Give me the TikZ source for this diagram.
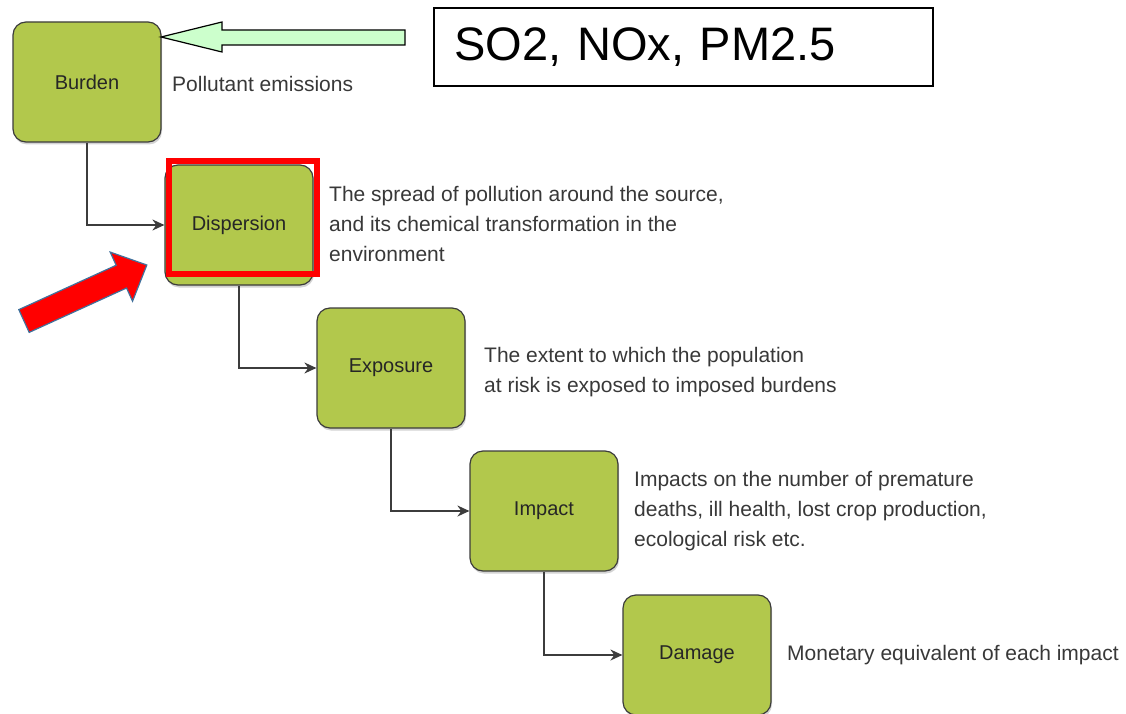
\documentclass[tikz,border=0pt]{standalone}
\usepackage{fontspec}
\setmainfont{Liberation Sans}
\usetikzlibrary{arrows.meta, shadows}
\definecolor{clrStage}{HTML}{B2C84C}
\definecolor{clrEdge}{HTML}{3C3C3C}
\definecolor{clrNote}{HTML}{383838}
\definecolor{clrInflow}{HTML}{CCFFCC}
\definecolor{clrPointer}{HTML}{FF0000}
\definecolor{clrPointerEdge}{HTML}{41719C}

\begin{document}
\begin{tikzpicture}[x=1pt, y=-1pt,
    stage/.style={rectangle, draw=clrEdge, fill=clrStage, minimum width=148pt, minimum height=120pt, rounded corners=13pt, line width=1.2pt, font=\fontsize{20}{24}\selectfont, text=black!85, drop shadow={opacity=0.35, shadow xshift=1pt, shadow yshift=-2.5pt}},
    note/.style={anchor=west, align=left, inner sep=0pt, font=\fontsize{21}{30}\selectfont, text=clrNote},
    link/.style={-{Stealth[length=12pt, width=11pt]}, line width=1.6pt, clrEdge},
    hilite/.style={rectangle, draw=clrPointer, line width=6pt, minimum width=148pt, minimum height=113pt},
    species/.style={rectangle, draw=black, line width=1.3pt, minimum width=499pt, minimum height=78pt, text width=458pt, align=left, font=\fontsize{47}{50}\selectfont},
]
\useasboundingbox (0,0) rectangle (1126,714);

% cascade of stages
\node[stage] (burden) at (87, 82) {Burden};
\node[stage] (dispersion) at (239, 225) {Dispersion};
\node[stage] (exposure) at (391, 368) {Exposure};
\node[stage] (impact) at (544, 511) {Impact};
\node[stage] (damage) at (697, 655) {Damage};

\draw[link] (burden.south) |- (dispersion.west);
\draw[link] (dispersion.south) |- (exposure.west);
\draw[link] (exposure.south) |- (impact.west);
\draw[link] (impact.south) |- (damage.west);

% descriptions
\node[note] (burdennote) at (172, 84) {Pollutant emissions};
\node[note] (dispersionnote) at (329, 224) {The spread of pollution around the source,\\and its chemical transformation in the\\environment};
\node[note] (exposurenote) at (484, 372) {The extent to which the population\\at risk is exposed to imposed burdens};
\node[note] (impactnote) at (634, 511) {Impacts on the number of premature\\deaths, ill health, lost crop production,\\ecological risk etc.};
\node[note] (damagenote) at (787, 655) {Monetary equivalent of each impact};

% emitted species feeding the burden
\node[species] (so2) at (683.5, 47) {SO2, NOx, PM2.5};
\draw[fill=clrInflow, line width=1.2pt] (161,37) -- (222,22) -- (222,30) -- (405,30) -- (405,45) -- (222,45) -- (222,52) -- cycle;

% highlight on dispersion
\node[hilite] (dispmark) at (243, 217.5) {};
\begin{scope}[shift={(24,321)}, rotate=24.5]
\draw[fill=clrPointer, draw=clrPointerEdge, line width=1.2pt] (0,-12.5) -- (107,-12.5) -- (107,-27) -- (135,0) -- (107,27) -- (107,12.5) -- (0,12.5) -- cycle;
\end{scope}

\end{tikzpicture}
\end{document}
